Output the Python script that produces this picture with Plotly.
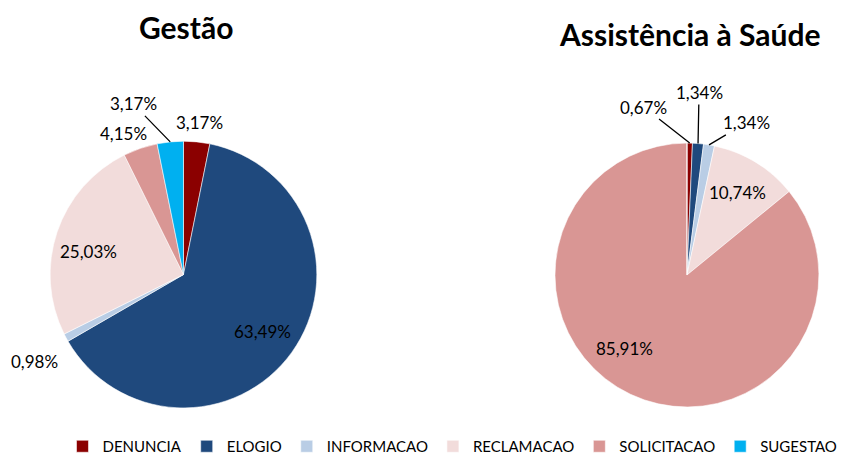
import math
import plotly.graph_objects as go

categories = ["DENUNCIA", "ELOGIO", "INFORMACAO", "RECLAMACAO", "SOLICITACAO", "SUGESTAO"]
gestao_values = [3.17, 63.49, 0.98, 25.03, 4.15, 3.17]
saude_values = [0.67, 1.34, 1.34, 10.74, 85.91, 0.0]
titles = ["Gestão", "Assistência à Saúde"]
colors = ["#8B0000", "#1F497D", "#B9CDE5", "#F2DCDB", "#D99694", "#00B0F0"]

FONT = "Lato, 'Open Sans', sans-serif"
W, H = 856, 463
dom_left = dict(x=[0.0584, 0.3703], y=[0.119, 0.695])
dom_right = dict(x=[0.648, 0.957], y=[0.121, 0.691])

# label placement for small slices: (dx, dy) pixel offset from slice edge, show leader line
small_left = {0: (3, -19, False), 2: (-32, 24, False), 4: (-17, -15, False), 5: (-37, -38, True)}
small_right = {0: (-46, -36, True), 1: (1, -51, True), 2: (37, -22, True)}
# angular nudge (degrees) for inside labels
nudge_left = {3: -5}
nudge_right = {4: 15}


def fmt(v):
    return f"{v:.2f}".replace(".", ",") + "%"


fig = go.Figure()


def add_pie(values, dom, small, nudge, show_legend):
    fig.add_trace(go.Pie(
        labels=categories, values=values, textinfo="none",
        sort=False, direction="clockwise", rotation=0,
        marker=dict(colors=colors, line=dict(width=0.7, color="rgba(255,255,255,0.8)")),
        domain=dom, hoverinfo="label+percent",
        showlegend=show_legend, automargin=False,
    ))
    cx = (dom["x"][0] + dom["x"][1]) / 2
    cy = (dom["y"][0] + dom["y"][1]) / 2
    r_px = min((dom["x"][1] - dom["x"][0]) * W, (dom["y"][1] - dom["y"][0]) * H) / 2
    total = sum(values)
    cum = 0.0
    for i, v in enumerate(values):
        if v <= 0:
            continue
        ang = math.radians((cum + v / 2) / total * 360)
        cum += v
        if i in small:
            dx, dy, line = small[i]
            px = cx + r_px * math.sin(ang) / W
            py = cy + r_px * math.cos(ang) / H
            fig.add_annotation(x=px, y=py, xref="paper", yref="paper", text=fmt(v),
                               showarrow=True, arrowhead=0, arrowwidth=1.3,
                               arrowcolor="#000000" if line else "rgba(0,0,0,0)",
                               ax=dx, ay=dy, font=dict(family=FONT, size=17, color="#000000"))
        else:
            a2 = ang + math.radians(nudge.get(i, 0))
            px = cx + 0.73 * r_px * math.sin(a2) / W
            py = cy + 0.73 * r_px * math.cos(a2) / H
            fig.add_annotation(x=px, y=py, xref="paper", yref="paper", text=fmt(v),
                               showarrow=False, xanchor="center", yanchor="middle",
                               font=dict(family=FONT, size=17, color="#000000"))


add_pie(gestao_values, dom_left, small_left, nudge_left, True)
add_pie(saude_values, dom_right, small_right, nudge_right, False)

fig.add_annotation(text="<b>" + titles[0] + "</b>", x=186 / W, y=1 - 27 / H, xref="paper", yref="paper",
                   xanchor="center", yanchor="middle",
                   showarrow=False, font=dict(family=FONT, size=30, color="#000000"))
fig.add_annotation(text="<b>" + titles[1] + "</b>", x=690 / W, y=1 - 34 / H, xref="paper", yref="paper",
                   xanchor="center", yanchor="middle",
                   showarrow=False, font=dict(family=FONT, size=30, color="#000000"))

fig.update_layout(
    width=W, height=H, margin=dict(l=0, r=0, t=0, b=0),
    paper_bgcolor="white", plot_bgcolor="white",
    legend=dict(orientation="h", x=0.073, xanchor="left", y=0.0, yanchor="bottom",
                font=dict(family=FONT, size=15, color="#000000"), traceorder="normal",
                itemwidth=30),
)

fig.write_html("out.html", config={"displayModeBar": False},
               post_script="document.body.style.margin='0';document.body.style.padding='0';")
